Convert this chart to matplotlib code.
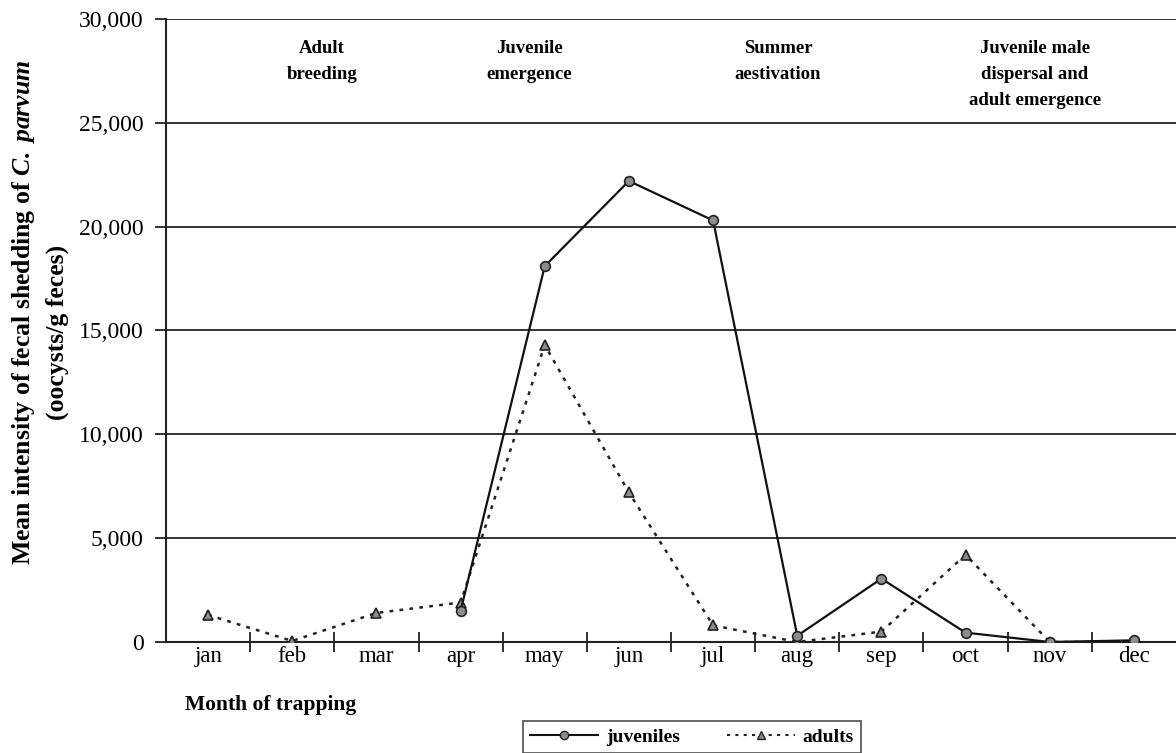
import numpy as np
import matplotlib
matplotlib.use("Agg")
import matplotlib.pyplot as plt
from matplotlib.ticker import FuncFormatter, FixedLocator
from matplotlib.lines import Line2D

plt.rcParams['font.family'] = ['Liberation Serif', 'DejaVu Serif']
plt.rcParams['mathtext.fontset'] = 'custom'
plt.rcParams['mathtext.rm'] = 'Liberation Serif:bold'
plt.rcParams['mathtext.it'] = 'Liberation Serif:italic:bold'
plt.rcParams['mathtext.bf'] = 'Liberation Serif:bold'

months = ['jan', 'feb', 'mar', 'apr', 'may', 'jun', 'jul', 'aug', 'sep', 'oct', 'nov', 'dec']
juveniles = [np.nan, np.nan, np.nan, 1500, 18100, 22200, 20300, 300, 3050, 450, 0, 80]
adults = [1300, 50, 1400, 1900, 14300, 7200, 800, 0, 500, 4200, 0, 0]
y_ticks = [0, 5000, 10000, 15000, 20000, 25000, 30000]
phases = ['Adult\nbreeding', 'Juvenile\nemergence', 'Summer\naestivation',
          'Juvenile male\ndispersal and\nadult emergence']
phase_x = [1.85, 4.32, 7.27, 10.32]

fig = plt.figure(figsize=(11.76, 7.53), dpi=100)
ax = fig.add_axes([166/1176, 1 - 642/753, 1010/1176, 623/753])

x = np.arange(len(months)) + 0.5
ax.plot(x, adults, linestyle=(0, (1.5, 2.5)), color='#222222', lw=1.8,
        marker='^', markersize=7, markerfacecolor='#8c8c8c',
        markeredgecolor='#222222', markeredgewidth=1.2, zorder=3)
ax.plot(x, juveniles, linestyle='-', color='#111111', lw=1.6,
        marker='o', markersize=7, markerfacecolor='#8c8c8c',
        markeredgecolor='#222222', markeredgewidth=1.2, zorder=4)

ax.set_xlim(0, 12)
ax.set_ylim(0, 30000)
ax.set_yticks(y_ticks)
ax.yaxis.set_major_formatter(FuncFormatter(lambda v, p: f'{int(v):,}'))
ax.yaxis.grid(True, color='#333333', lw=1.4)
ax.set_axisbelow(True)

ax.set_xticks(x)
ax.set_xticklabels(months)
ax.xaxis.set_minor_locator(FixedLocator(np.arange(1, 12)))
ax.tick_params(axis='x', which='major', length=0, pad=3, labelsize=16.5)
ax.tick_params(axis='x', which='minor', direction='inout', length=14, width=1.3, color='#222222')
ax.tick_params(axis='y', which='major', direction='out', length=8, width=1.3,
               pad=8, labelsize=17, color='#222222')

for s in ['top', 'right']:
    ax.spines[s].set_visible(False)
for s in ['left', 'bottom']:
    ax.spines[s].set_color('#222222')
    ax.spines[s].set_linewidth(1.5)

for t, px in zip(phases, phase_x):
    ax.text(px, 29000, t, ha='center', va='top', fontsize=13.5, fontweight='bold',
            linespacing=1.7)

fig.text(24/1176, 1 - 312/753, r'Mean intensity of fecal shedding of $\mathit{C.}$ $\mathit{parvum}$',
         rotation=90, ha='center', va='center', fontsize=18.5, fontweight='bold')
fig.text(57/1176, 1 - 332/753, '(oocysts/g feces)',
         rotation=90, ha='center', va='center', fontsize=18.5, fontweight='bold')

fig.text(271/1176, 1 - 705/753, 'Month of trapping', ha='center', va='center',
         fontsize=15.5, fontweight='bold')

handles = [Line2D([0], [0], color='#111111', lw=1.5, marker='o', markersize=6,
                  markerfacecolor='#8c8c8c', markeredgecolor='#222222'),
           Line2D([0], [0], color='#222222', lw=1.5, linestyle=(0, (1.5, 2.5)), marker='^',
                  markersize=6, markerfacecolor='#8c8c8c', markeredgecolor='#222222')]
leg = fig.legend(handles, ['juveniles', 'adults'], loc='center',
                 bbox_to_anchor=(692/1176, 1 - 737/753), ncol=2, frameon=True,
                 fancybox=False, edgecolor='#222222', prop={'weight': 'bold', 'size': 14},
                 handlelength=3.5, columnspacing=2.4, borderpad=0.35, handletextpad=0.4,
                 borderaxespad=0)
leg.get_frame().set_linewidth(1.2)

fig.savefig('out.png', dpi=100)
